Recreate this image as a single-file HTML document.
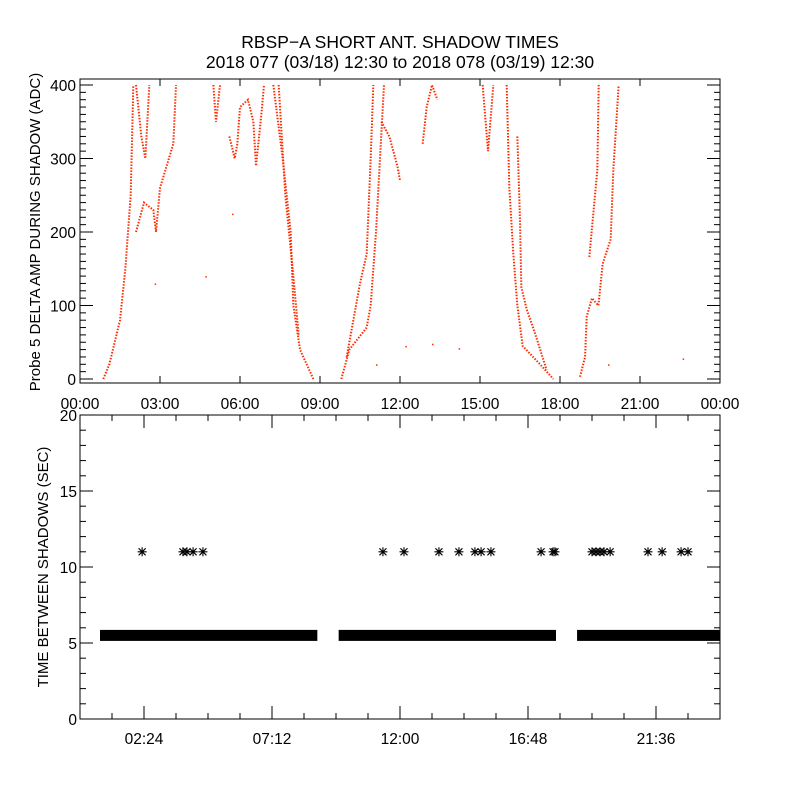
<!DOCTYPE html>
<html><head><meta charset="utf-8"><style>
html,body{margin:0;padding:0;background:#fff;}
svg{display:block;font-family:"Liberation Sans",sans-serif;}
</style></head><body>
<svg id="chart" width="800" height="800" viewBox="0 0 800 800" xmlns="http://www.w3.org/2000/svg">
<text x="400" y="48" font-size="17.5" text-anchor="middle">RBSP−A SHORT ANT. SHADOW TIMES</text>
<text x="400" y="68" font-size="17.5" text-anchor="middle">2018 077 (03/18) 12:30 to 2018 078 (03/19) 12:30</text>
<g id="top"></g>
<g id="bot"></g>
</svg>
<script>
// ---- top panel data (hours, ADC value) ----
const topTrackA = [[0.875,0],[1.1,20],[1.5,80],[1.7,150],[1.9,250],[2.0,400]];
const topTrackB = [[2.1,200],[2.4,240],[2.75,230],[2.85,200],[3.0,260],[3.25,290],[3.5,320],[3.6,400]];
const topTrackC = [[2.1,400],[2.3,330],[2.45,300],[2.6,400]];
const topTrackD = [[5.0,400],[5.1,350],[5.25,400]];
const topTrackE = [[5.6,330],[5.8,300],[5.9,320],[6.0,370],[6.3,380],[6.5,350],[6.6,290],[6.8,360],[6.9,400]];
const topTrackF = [[7.25,400],[7.6,300],[7.9,200],[8.0,100],[8.25,40],[8.75,0]];
const topTrackG = [[7.45,400],[7.7,250],[8.0,140],[8.2,60]];
const topTrackH = [[9.8,0],[10.1,40],[10.75,70],[10.9,100],[11.1,200],[11.4,400]];
const topTrackI = [[10.0,30],[10.5,130],[10.75,170],[10.9,300],[11.0,400]];
const topTrackJ = [[11.3,350],[11.6,330],[11.9,290],[12.0,270]];
const topTrackK = [[12.85,320],[13.0,370],[13.2,400],[13.4,380]];
const topTrackL = [[15.1,400],[15.3,310],[15.5,400]];
const topTrackM = [[16.0,400],[16.1,260],[16.25,170],[16.4,100],[16.6,45],[17.25,20],[17.75,0]];
const topTrackN = [[16.4,330],[16.5,216],[16.55,125],[16.75,95],[17.1,58],[17.5,12]];
const topTrackO = [[18.75,3],[18.94,30],[19.0,85],[19.2,110],[19.44,100],[19.6,157],[19.9,190],[20.0,285],[20.2,400]];
const topTrackP = [[19.1,166],[19.4,285],[19.45,400]];
const topIsolated = [[4.7,140],[2.8,130],[5.7,225],[12.2,45],[13.2,48],[14.2,42],[11.1,20],[19.8,20],[22.6,28]];
const topYTicks = [0,100,200,300,400];
const topXLabels = ["00:00","03:00","06:00","09:00","12:00","15:00","18:00","21:00","00:00"];
// ---- bottom panel data ----
const botSegStart = [0.75,9.7,18.64];
const botSegEnd = [8.9,17.85,24.0];
const botSegValue = [5.5,5.5,5.5];
const outlierTimes = [2.33,3.86,4.01,4.24,4.61,11.36,12.15,13.46,14.21,14.81,15.04,15.41,17.29,17.74,17.81,19.2,19.35,19.5,19.65,19.88,21.3,21.83,22.54,22.8];
const outlierValues = [11,11,11,11,11,11,11,11,11,11,11,11,11,11,11,11,11,11,11,11,11,11,11,11];
const botYTicks = [0,5,10,15,20];
const botXLabels = ["02:24","07:12","12:00","16:48","21:36"];
const botXLabelHours = [2.4,7.2,12.0,16.8,21.6];

const NS="http://www.w3.org/2000/svg";
function mk(parent,tag,attrs){const e=document.createElementNS(NS,tag);for(const k in attrs)e.setAttribute(k,attrs[k]);parent.appendChild(e);return e;}
const X0=80,X1=720;
const xs=h=>X0+(h/24)*(X1-X0);
// top
const T=document.getElementById('top');
const ty=v=>379-v*0.735;
let r=mk(T,'rect',{x:80,y:79,width:640,height:304,fill:'none',stroke:'#000','stroke-width':1});


for(let v=0;v<=400;v+=10){
  const major=v%100===0;const L=major?13:6;
  mk(T,'line',{x1:80,y1:ty(v),x2:80+L,y2:ty(v),stroke:'#000'});
  mk(T,'line',{x1:720,y1:ty(v),x2:720-L,y2:ty(v),stroke:'#000'});
}
topYTicks.forEach(v=>{
  const t=mk(T,'text',{x:76,y:ty(v)+6,'font-size':15.5,'text-anchor':'end'});t.textContent=v;
  
  
});
topXLabels.forEach((s,i)=>{
  const x=xs(i*3);
  mk(T,'line',{x1:x,y1:383,x2:x,y2:376,stroke:'#000'});
  mk(T,'line',{x1:x,y1:79,x2:x,y2:86,stroke:'#000'});
  const t=mk(T,'text',{x:x,y:409,'font-size':15.5,'text-anchor':'middle'});t.textContent=s;
  
  
});
let yl=mk(T,'text',{x:0,y:0,'font-size':15,'text-anchor':'middle',transform:'translate(40,232) rotate(-90)'});
yl.textContent='Probe 5 DELTA AMP DURING SHADOW (ADC)';


[topTrackA,topTrackB,topTrackC,topTrackD,topTrackE,topTrackF,topTrackG,topTrackH,topTrackI,topTrackJ,topTrackK,topTrackL,topTrackM,topTrackN,topTrackO,topTrackP].forEach(tr=>{
  const p=mk(T,'polyline',{points:tr.map(d=>xs(d[0])+','+ty(d[1])).join(' '),fill:'none',stroke:'#ff2a00','stroke-width':2,'stroke-dasharray':'1.5 1.5'});
  
  
});
topIsolated.forEach(d=>{
  const c=mk(T,'rect',{x:xs(d[0]),y:ty(d[1]),width:1.5,height:1.5,fill:'#ff2a00'});
  
  
});
// bottom
const B=document.getElementById('bot');
const by=v=>719-v*15.2;
r=mk(B,'rect',{x:80,y:415,width:640,height:304,fill:'none',stroke:'#000','stroke-width':1});


for(let v=0;v<=20;v++){
  const major=v%5===0;const L=major?13:6;
  mk(B,'line',{x1:80,y1:by(v),x2:80+L,y2:by(v),stroke:'#000'});
  mk(B,'line',{x1:720,y1:by(v),x2:720-L,y2:by(v),stroke:'#000'});
}
botYTicks.forEach(v=>{
  const t=mk(B,'text',{x:77,y:by(v)+6,'font-size':15.5,'text-anchor':'end'});t.textContent=v;
  
  
});
for(let i=1;i<20;i++){
  const h=i*1.2;const x=xs(h);const major=(i%4===2);const L=major?13:6;
  mk(B,'line',{x1:x,y1:719,x2:x,y2:719-L,stroke:'#000'});
  mk(B,'line',{x1:x,y1:415,x2:x,y2:415+L,stroke:'#000'});
}
botXLabels.forEach((s,i)=>{
  const t=mk(B,'text',{x:xs(botXLabelHours[i]),y:744,'font-size':15.5,'text-anchor':'middle'});t.textContent=s;
  
  
});
yl=mk(B,'text',{x:0,y:0,'font-size':15,'text-anchor':'middle',transform:'translate(48,567) rotate(-90)'});
yl.textContent='TIME BETWEEN SHADOWS (SEC)';


botSegStart.forEach((s,i)=>{
  const x1=xs(s),x2=xs(botSegEnd[i]),y=by(botSegValue[i]);
  const b=mk(B,'rect',{x:x1,y:y-5.5,width:x2-x1,height:11,fill:'#000'});
  
  
});
function star(g,x,y){
  const s=mk(g,'path',{d:`M${x-4.5},${y}H${x+4.5}M${x},${y-4.5}V${y+4.5}M${x-3.5},${y-3.5}L${x+3.5},${y+3.5}M${x-3.5},${y+3.5}L${x+3.5},${y-3.5}`,stroke:'#000','stroke-width':1.1,fill:'none'});
  return s;
}
outlierTimes.forEach((h,i)=>{
  const s=star(B,xs(h),by(outlierValues[i]));
  
  
});
</script>
</body></html>
